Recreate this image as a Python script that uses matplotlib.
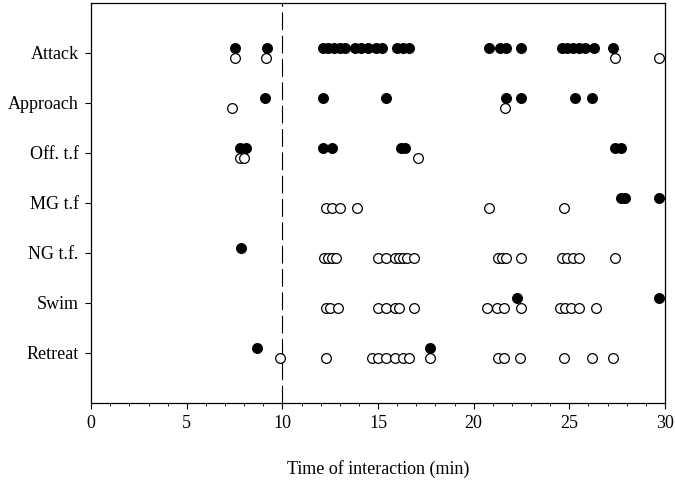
import matplotlib

matplotlib.use("Agg")

import matplotlib.pyplot as plt
from matplotlib.ticker import MultipleLocator

plt.rcParams["font.family"] = ["Liberation Serif", "DejaVu Serif"]

BEHAVIOURS = ["Retreat", "Swim", "NG t.f.", "MG t.f", "Off. t.f", "Approach", "Attack"]

# filled circles (first group) and open circles (second group), times in min
FILLED = {
    "Attack": [7.5, 9.2, 12.1, 12.4, 12.7, 13.0, 13.3, 13.8, 14.1, 14.5, 14.9, 15.2,
               16.0, 16.3, 16.6, 20.8, 21.4, 21.7, 22.5, 24.6, 24.9, 25.2, 25.5, 25.8,
               26.3, 27.3],
    "Approach": [9.1, 12.1, 15.4, 21.7, 22.5, 25.3, 26.2],
    "Off. t.f": [7.8, 8.1, 12.1, 12.6, 16.2, 16.4, 27.4, 27.7],
    "MG t.f": [27.7, 27.9, 29.7],
    "NG t.f.": [7.85],
    "Swim": [22.25, 29.7],
    "Retreat": [8.65, 17.7],
}
OPEN = {
    "Attack": [7.5, 9.15, 27.4, 29.7],
    "Approach": [7.35, 21.65],
    "Off. t.f": [7.8, 8.0, 17.1],
    "MG t.f": [12.3, 12.6, 13.0, 13.9, 20.8, 24.7],
    "NG t.f.": [12.2, 12.4, 12.6, 12.8, 15.0, 15.4, 15.9, 16.1, 16.3, 16.5, 16.9,
                21.3, 21.5, 21.7, 22.5, 24.6, 24.9, 25.2, 25.5, 27.4],
    "Swim": [12.3, 12.5, 12.9, 15.0, 15.4, 15.9, 16.1, 16.9, 20.7, 21.2, 21.6, 22.5,
             24.5, 24.8, 25.1, 25.5, 26.4],
    "Retreat": [9.9, 12.3, 14.7, 15.0, 15.4, 15.9, 16.3, 16.6, 17.7, 21.3, 21.6, 22.4,
                24.7, 26.2, 27.3],
}
OFFSET = 0.1

fig = plt.figure(figsize=(6.75, 4.9), dpi=100)
ax = fig.add_axes([0.135, 0.178, 0.85, 0.816])

for i, name in enumerate(BEHAVIOURS, start=1):
    xo = OPEN[name]
    ax.plot(xo, [i - OFFSET] * len(xo), "o", ms=7, mfc="white", mec="black",
            mew=0.9, clip_on=False, zorder=3)
    xf = FILLED[name]
    ax.plot(xf, [i + OFFSET] * len(xf), "o", ms=7, mfc="black", mec="black",
            mew=0.9, clip_on=False, zorder=4)

ax.axvline(10, color="black", lw=0.8, dashes=(16, 5), zorder=1)

ax.set_xlim(0, 30)
ax.set_ylim(0, 8)
ax.xaxis.set_major_locator(MultipleLocator(5))
ax.xaxis.set_minor_locator(MultipleLocator(1))
ax.set_yticks(range(1, len(BEHAVIOURS) + 1))
ax.set_yticklabels(BEHAVIOURS)
ax.tick_params(axis="both", which="major", direction="out", length=4, width=0.8,
               labelsize=13, pad=5)
ax.tick_params(axis="x", which="minor", direction="out", length=2.5, width=0.6)
for s in ax.spines.values():
    s.set_linewidth(0.9)
ax.set_xlabel("Time of interaction (min)", fontsize=13, labelpad=20)

fig.savefig("out.png", dpi=100)
